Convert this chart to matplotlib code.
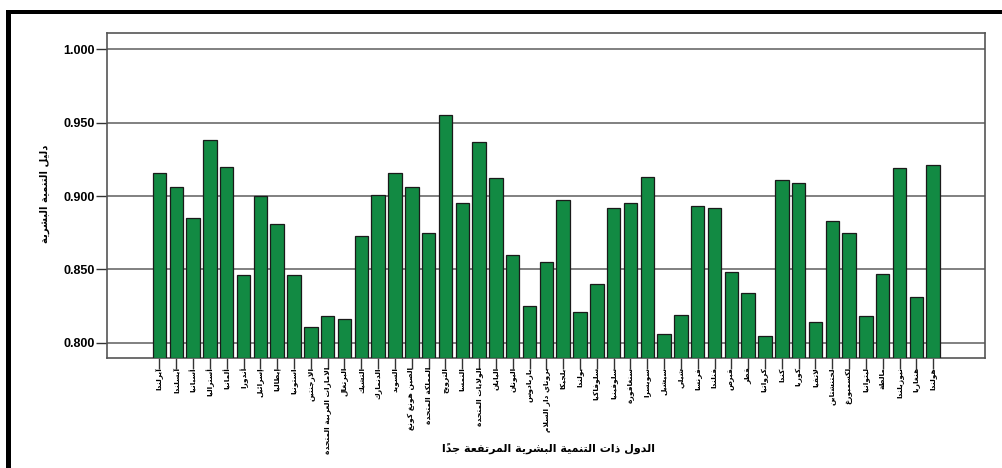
import matplotlib
matplotlib.use("Agg")
import matplotlib.pyplot as plt
from matplotlib.patches import Rectangle

# ---------------- data ----------------
countries = [
    "آيرلندا", "آيسلندا", "أسبانيا", "أستراليا", "ألمانيا", "أندورا",
    "إسرائيل", "إيطاليا", "استونيا", "الارجنتين", "الامارات العربية المتحدة",
    "البرتغال", "التشيك", "الدنمارك", "السويد", "الصين هونغ كونغ",
    "المملكة المتحدة", "النرويج", "النمسا", "الولايات المتحدة",
    "اليابان", "اليونان", "باربادوس", "بروناي دار السلام", "بلجيكا",
    "بولندا", "سلوفاكيا", "سلوفينيا", "سنغافورة", "سويسرا", "سيشيل",
    "شيلي", "فرنسا", "فنلندا", "قبرص", "قطر", "كرواتيا", "كندا", "كوريا",
    "لاتفيا", "لختنشتاين", "لكسمبورغ", "ليتوانيا", "مالطة", "نيوزيلندا",
    "هنغاريا", "هولندا",
]
hdi = [
    0.916, 0.906, 0.885, 0.938, 0.920, 0.846,
    0.900, 0.881, 0.846, 0.811, 0.818,
    0.816, 0.873, 0.901, 0.916, 0.906,
    0.875, 0.955, 0.895, 0.937,
    0.912, 0.860, 0.825, 0.855, 0.897,
    0.821, 0.840, 0.892, 0.895, 0.913, 0.806,
    0.819, 0.893, 0.892, 0.848, 0.834, 0.805, 0.911, 0.909,
    0.814, 0.883, 0.875, 0.818, 0.847, 0.919,
    0.831, 0.921,
]
y_ticks = [0.800, 0.850, 0.900, 0.950, 1.000]
y_label = "دليل التنمية البشرية"
x_label = "الدول ذات التنمية البشرية المرتفعة جداً"

# ---------------- minimal Arabic shaping ----------------
_FORMS = {
    '\u0621': (0xFE80, None, None, None),
    '\u0622': (0xFE81, 0xFE82, None, None),
    '\u0623': (0xFE83, 0xFE84, None, None),
    '\u0624': (0xFE85, 0xFE86, None, None),
    '\u0625': (0xFE87, 0xFE88, None, None),
    '\u0626': (0xFE89, 0xFE8A, 0xFE8B, 0xFE8C),
    '\u0627': (0xFE8D, 0xFE8E, None, None),
    '\u0628': (0xFE8F, 0xFE90, 0xFE91, 0xFE92),
    '\u0629': (0xFE93, 0xFE94, None, None),
    '\u062A': (0xFE95, 0xFE96, 0xFE97, 0xFE98),
    '\u062B': (0xFE99, 0xFE9A, 0xFE9B, 0xFE9C),
    '\u062C': (0xFE9D, 0xFE9E, 0xFE9F, 0xFEA0),
    '\u062D': (0xFEA1, 0xFEA2, 0xFEA3, 0xFEA4),
    '\u062E': (0xFEA5, 0xFEA6, 0xFEA7, 0xFEA8),
    '\u062F': (0xFEA9, 0xFEAA, None, None),
    '\u0630': (0xFEAB, 0xFEAC, None, None),
    '\u0631': (0xFEAD, 0xFEAE, None, None),
    '\u0632': (0xFEAF, 0xFEB0, None, None),
    '\u0633': (0xFEB1, 0xFEB2, 0xFEB3, 0xFEB4),
    '\u0634': (0xFEB5, 0xFEB6, 0xFEB7, 0xFEB8),
    '\u0635': (0xFEB9, 0xFEBA, 0xFEBB, 0xFEBC),
    '\u0636': (0xFEBD, 0xFEBE, 0xFEBF, 0xFEC0),
    '\u0637': (0xFEC1, 0xFEC2, 0xFEC3, 0xFEC4),
    '\u0638': (0xFEC5, 0xFEC6, 0xFEC7, 0xFEC8),
    '\u0639': (0xFEC9, 0xFECA, 0xFECB, 0xFECC),
    '\u063A': (0xFECD, 0xFECE, 0xFECF, 0xFED0),
    '\u0641': (0xFED1, 0xFED2, 0xFED3, 0xFED4),
    '\u0642': (0xFED5, 0xFED6, 0xFED7, 0xFED8),
    '\u0643': (0xFED9, 0xFEDA, 0xFEDB, 0xFEDC),
    '\u0644': (0xFEDD, 0xFEDE, 0xFEDF, 0xFEE0),
    '\u0645': (0xFEE1, 0xFEE2, 0xFEE3, 0xFEE4),
    '\u0646': (0xFEE5, 0xFEE6, 0xFEE7, 0xFEE8),
    '\u0647': (0xFEE9, 0xFEEA, 0xFEEB, 0xFEEC),
    '\u0648': (0xFEED, 0xFEEE, None, None),
    '\u0649': (0xFEEF, 0xFEF0, None, None),
    '\u064A': (0xFEF1, 0xFEF2, 0xFEF3, 0xFEF4),
}
_LAMALEF = {'\u0622': (0xFEF5, 0xFEF6), '\u0623': (0xFEF7, 0xFEF8),
            '\u0625': (0xFEF9, 0xFEFA), '\u0627': (0xFEFB, 0xFEFC)}


def _is_mark(c):
    return '\u064B' <= c <= '\u065F' or c == '\u0670'


def _dual(c):
    f = _FORMS.get(c)
    return f is not None and f[2] is not None


def shape(text):
    chars = list(text)
    n = len(chars)
    clusters = []
    i = 0
    prev_letter = None
    while i < n:
        c = chars[i]
        if _is_mark(c):
            if clusters:
                clusters[-1] += c
            else:
                clusters.append(c)
            i += 1
            continue
        if c not in _FORMS:
            clusters.append(c)
            prev_letter = None
            i += 1
            continue
        j = i + 1
        while j < n and _is_mark(chars[j]):
            j += 1
        nxt = chars[j] if j < n else None
        joins_prev = prev_letter is not None and _dual(prev_letter)
        if c == '\u0644' and nxt in _LAMALEF:
            iso, fin = _LAMALEF[nxt]
            glyph = chr(fin if joins_prev else iso)
            marks = ''.join(chars[i + 1:j])
            clusters.append(glyph + marks)
            prev_letter = nxt
            i = j + 1
            continue
        joins_next = _dual(c) and nxt is not None and nxt in _FORMS and nxt != '\u0621'
        iso, fin, ini, med = _FORMS[c]
        if joins_prev and joins_next:
            g = med
        elif joins_prev:
            g = fin if fin else iso
        elif joins_next:
            g = ini
        else:
            g = iso
        clusters.append(chr(g))
        prev_letter = c
        i += 1
    return ''.join(reversed(clusters))


# ---------------- plot ----------------
plt.rcParams['font.family'] = ['DejaVu Sans']

fig = plt.figure(figsize=(10.02, 4.68), dpi=100)
fig.patch.set_facecolor('white')

# thick black frame (top and left edges, as in the reference crop)
fig.add_artist(Rectangle((6 / 1002, 0), 5 / 1002, 1 - 10 / 468,
                         transform=fig.transFigure, facecolor='black',
                         edgecolor='none'))
fig.add_artist(Rectangle((6 / 1002, 1 - 14 / 468), 1, 4 / 468,
                         transform=fig.transFigure, facecolor='black',
                         edgecolor='none'))

ax = fig.add_axes([107 / 1002, 1 - 358 / 468, (985 - 107) / 1002, (358 - 33) / 468])
x = list(range(len(hdi)))
ax.set_axisbelow(True)
ax.yaxis.grid(True, color='#6b6b6b', linewidth=1.2)
ax.bar(x, [v - 0.7897 for v in hdi], bottom=0.7897, width=0.8,
       color='#128A43', edgecolor='#1a1a1a', linewidth=0.9, zorder=3)

ax.set_xlim(-3.12, len(hdi) - 1 + 3.08)
ax.set_ylim(0.7897, 1.011)
ax.set_yticks(y_ticks)
ax.set_yticklabels([f"{v:.3f}" for v in y_ticks], fontfamily='Liberation Sans',
                   fontweight='bold', fontsize=9)
ax.set_xticks(x)
ax.set_xticklabels([shape(c) for c in countries], rotation=90, fontsize=5.4,
                   fontweight='bold')
ax.tick_params(axis='both', direction='out', length=8, width=1, color='#333333')
ax.tick_params(axis='x', pad=-1.5)
ax.tick_params(axis='y', pad=1)
for s in ax.spines.values():
    s.set_color('#555555')
    s.set_linewidth(1.2)

fig.text(45 / 1002, 1 - 194 / 468, shape(y_label), rotation=90, ha='center',
         va='center', fontsize=7.2, fontweight='bold')
fig.text(548 / 1002, 1 - 448 / 468, shape(x_label), ha='center', va='center',
         fontsize=8, fontweight='bold')

fig.savefig('out.png', dpi=100, facecolor='white')
